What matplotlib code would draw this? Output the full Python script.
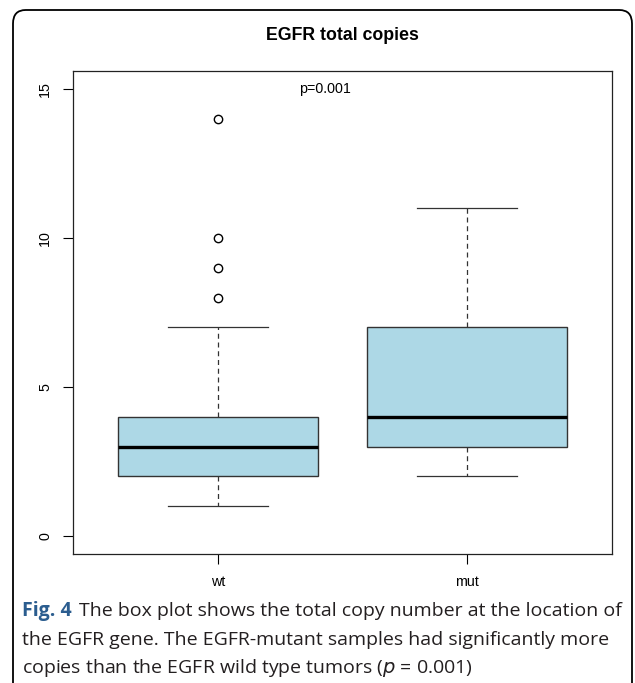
import matplotlib.pyplot as plt
from matplotlib.patches import FancyBboxPatch

# 箱形圖的資料 (wt / mut)
groups = ["wt", "mut"]
whisker_low = [1, 2]
q1 = [2, 3]
median = [3, 4]
q3 = [4, 7]
whisker_high = [7, 11]
outliers = [[8, 9, 10, 14], []]

y_ticks = [0, 5, 10, 15]
title = "EGFR total copies"
p_text = "p=0.001"

plt.rcParams["font.family"] = ["Liberation Sans", "DejaVu Sans"]

fig = plt.figure(figsize=(6.35, 6.83), dpi=100)
ax = fig.add_axes([73 / 635, 1 - 554 / 683, (612 - 73) / 635, (554 - 71) / 683])

stats = []
for i, g in enumerate(groups):
    stats.append({
        "label": g,
        "whislo": whisker_low[i],
        "q1": q1[i],
        "med": median[i],
        "q3": q3[i],
        "whishi": whisker_high[i],
        "fliers": outliers[i],
    })

ax.bxp(
    stats,
    positions=[1, 2],
    widths=0.8,
    patch_artist=True,
    boxprops=dict(facecolor="#ADD8E6", edgecolor="#333333", linewidth=1.0),
    medianprops=dict(color="black", linewidth=2.4, solid_capstyle="butt"),
    whiskerprops=dict(color="#333333", linewidth=0.9, linestyle=(0, (4, 3))),
    capprops=dict(color="#333333", linewidth=0.9),
    capwidths=0.4,
    flierprops=dict(marker="o", markerfacecolor="none", markeredgecolor="black",
                    markersize=6, markeredgewidth=1.0),
)

ax.set_xlim(0.42, 2.58)
ax.set_ylim(-0.6, 15.6)
ax.set_yticks(y_ticks)
ax.set_yticklabels([str(t) for t in y_ticks], rotation=90, va="center")
ax.set_xticks([1, 2])
ax.set_xticklabels(groups)
ax.tick_params(axis="both", length=7, width=0.8, labelsize=10.3, direction="out")
ax.tick_params(axis="y", pad=8)
ax.tick_params(axis="x", pad=8)
for s in ax.spines.values():
    s.set_linewidth(0.9)
    s.set_color("#222222")

ax.text(1.43, 15, p_text, ha="center", va="center", fontsize=10.3)
fig.text(342 / 635, 1 - 35 / 683, title, ha="center", va="center",
         fontsize=12.8, fontweight="bold")

# 外框 (圓角)
frame = FancyBboxPatch((13 / 635, -0.05), (632 - 13) / 635, 1.05 - 10 / 683,
                       boxstyle="round,pad=0,rounding_size=0.02",
                       transform=fig.transFigure, fill=False,
                       edgecolor="black", linewidth=1.3, clip_on=False)
fig.patches.append(frame)

# 圖說文字
cap_font = ["Open Sans", "DejaVu Sans"]
cap_size = 14.0
fig.text(22 / 635, 1 - 611 / 683, "Fig. 4", ha="left", va="center",
         fontsize=cap_size, fontweight="bold", color="#2b5d8f", family=cap_font)
fig.text(79 / 635, 1 - 611 / 683,
         "The box plot shows the total copy number at the location of",
         ha="left", va="center", fontsize=cap_size, color="#231f20", family=cap_font)
fig.text(22 / 635, 1 - 640 / 683,
         "the EGFR gene. The EGFR-mutant samples had significantly more",
         ha="left", va="center", fontsize=cap_size, color="#231f20", family=cap_font)
fig.text(22 / 635, 1 - 668 / 683,
         "copies than the EGFR wild type tumors ($\\mathit{p}$ = 0.001)",
         ha="left", va="center", fontsize=cap_size, color="#231f20", family=cap_font)

fig.savefig("out.png", dpi=100)
